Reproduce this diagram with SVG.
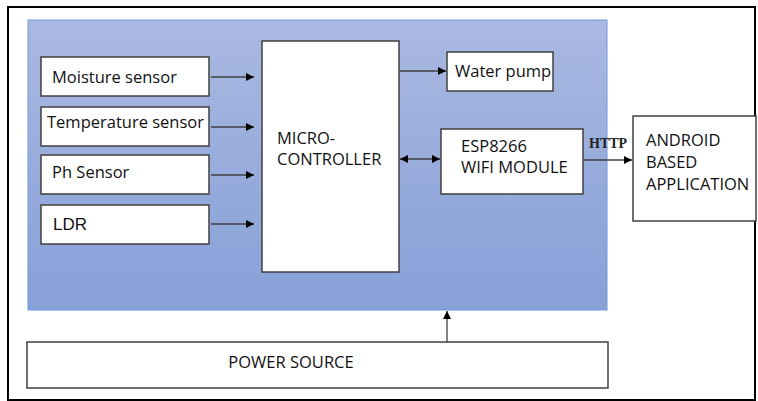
<svg xmlns="http://www.w3.org/2000/svg" width="758" height="401" viewBox="0 0 758 401">
<defs>
<linearGradient id="bg" x1="0" y1="0" x2="0" y2="1">
<stop offset="0" stop-color="#aab9e1"/>
<stop offset="1" stop-color="#86a0d8"/>
</linearGradient>
<marker id="ah" viewBox="0 0 10 10" refX="10" refY="5" markerWidth="8" markerHeight="8" markerUnits="userSpaceOnUse" orient="auto-start-reverse">
<path d="M0,0 L10,5 L0,10 z" fill="#000"/>
</marker>
<style>
.box{fill:#fff;stroke:#404040;stroke-width:1.5}
.t{font-family:"Open Sans","Noto Sans",sans-serif;font-size:16.5px;fill:#111}
.a{font-family:"Liberation Sans",Arial,sans-serif;font-size:17px;fill:#111}
.c{stroke:#404040;stroke-width:1.3;fill:none;marker-end:url(#ah)}
</style>
</defs>
<rect x="0" y="0" width="758" height="401" fill="#fff"/>
<rect x="8" y="7" width="747" height="393" fill="none" stroke="#000" stroke-width="2"/>
<rect id="panel" x="28" y="20" width="579" height="290" fill="url(#bg)" stroke="#7198dc" stroke-width="1"/>
<g id="moisture"><rect class="box" x="41" y="57" width="168" height="39"/><text class="t" x="52" y="83">Moisture sensor</text></g>
<g id="temperature"><rect class="box" x="41" y="107" width="168" height="39"/><text class="t" x="47" y="128">Temperature sensor</text></g>
<g id="ph"><rect class="box" x="41" y="155" width="168" height="39"/><text class="t" x="52" y="178">Ph Sensor</text></g>
<g id="ldr"><rect class="box" x="41" y="205" width="168" height="39"/><text class="a" x="53" y="230">LDR</text></g>
<g id="micro"><rect class="box" x="262" y="41" width="137" height="231"/><text class="t" x="277" y="144">MICRO-</text><text class="t" x="277" y="165">CONTROLLER</text></g>
<g id="pump"><rect class="box" x="447" y="52" width="106" height="39"/><text class="t" x="455" y="77">Water pump</text></g>
<g id="esp"><rect class="box" x="441" y="129" width="142" height="65"/><text class="t" x="461" y="152">ESP8266</text><text class="t" x="461" y="173">WIFI MODULE</text></g>
<g id="android"><rect class="box" x="633" y="116" width="123" height="105"/><text class="t" x="646" y="146">ANDROID</text><text class="t" x="646" y="168">BASED</text><text class="t" x="646" y="190">APPLICATION</text></g>
<g id="power"><rect class="box" x="27" y="342" width="581" height="46"/><text class="t" x="291" y="368" text-anchor="middle" fill="#222">POWER SOURCE</text></g>
<g id="connectors">
<line class="c" x1="211" y1="77" x2="254" y2="77"/>
<line class="c" x1="211" y1="127" x2="254" y2="127"/>
<line class="c" x1="211" y1="175" x2="254" y2="175"/>
<line class="c" x1="211" y1="224" x2="254" y2="224"/>
<line class="c" x1="400" y1="71" x2="446" y2="71"/>
<line class="c" x1="400" y1="159" x2="440" y2="159" marker-start="url(#ah)"/>
<line class="c" x1="584" y1="160" x2="632" y2="160"/>
<line class="c" x1="447" y1="342" x2="447" y2="311"/>
<text x="589" y="148" font-family="Liberation Serif,serif" font-size="14" font-weight="bold" fill="#222">HTTP</text>
</g>
</svg>
